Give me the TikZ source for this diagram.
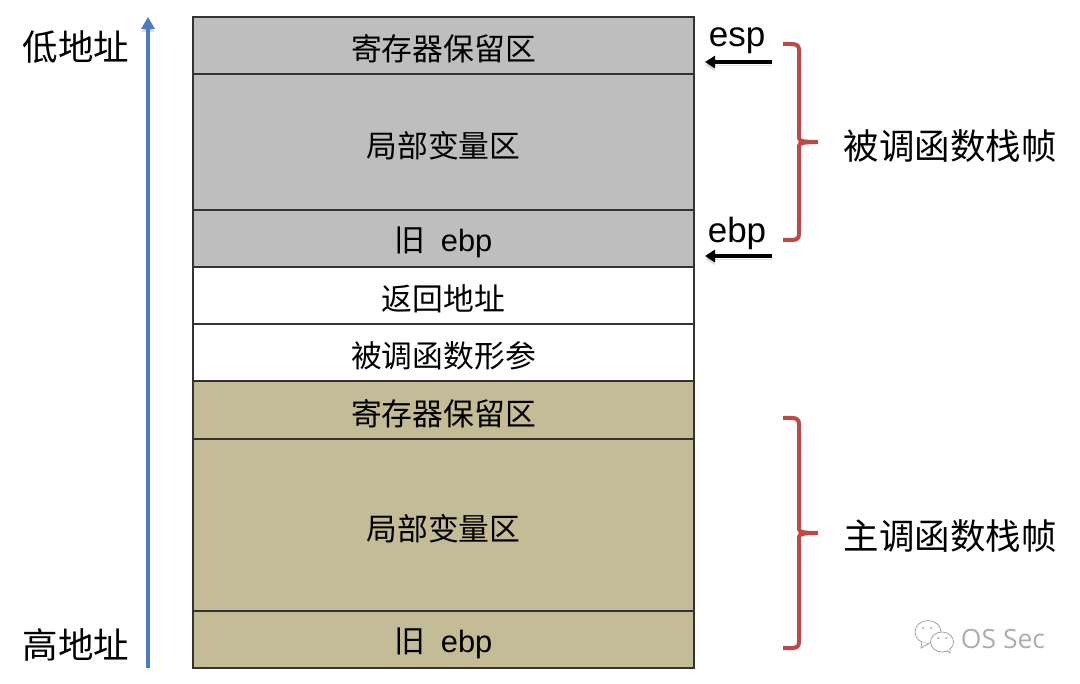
\documentclass[tikz,border=0pt]{standalone}
\usepackage{fontspec}
\setmainfont{Liberation Sans}
\newfontfamily\cjk{Noto Sans CJK SC}
\newfontfamily\marklight{Open Sans}
\usetikzlibrary{calc, arrows.meta}
\definecolor{calleegray}{HTML}{BEBEBE}
\definecolor{callertan}{HTML}{C4BC96}
\definecolor{bracered}{HTML}{B84C4A}
\definecolor{addrblue}{HTML}{4A7EBB}
\tikzset{
    softshadow/.style={preaction={draw=black, opacity=.12, transform canvas={shift={(0pt,-3pt)}}}},
    slot/.style={draw=black!80, line width=1.4pt},
    slotlabel/.style={font=\fontsize{30.8}{36}\selectfont\cjk, inner sep=0pt, yshift=-3.5pt},
    biglabel/.style={font=\fontsize{35.5}{42}\selectfont\cjk, inner sep=0pt},
    reglabel/.style={font=\fontsize{35}{42}\selectfont, inner sep=0pt, anchor=base},
    regarrow/.style={draw=black, line width=3.4pt, -{Triangle[length=10pt, width=12pt]}, softshadow},
    framebrace/.style={draw=bracered, line width=4pt, line cap=butt, softshadow},
    bubble/.style={draw=black!40, fill=white, line width=.7pt},
}
\begin{document}
\begin{tikzpicture}[x=1pt, y=-1pt]
    \useasboundingbox (0,0) rectangle (1080,684);

    \coordinate (L0) at (193, 17);
    \coordinate (R1) at (694, 74);
    \coordinate (R2) at (694, 210);
    \coordinate (R3) at (694, 267);
    \coordinate (L3) at (193, 267);
    \coordinate (R4) at (694, 324);
    \coordinate (L4) at (193, 324);
    \coordinate (R5) at (694, 381);
    \coordinate (L5) at (193, 381);
    \coordinate (R6) at (694, 439);
    \coordinate (R7) at (694, 611);
    \coordinate (R8) at (694, 668);
    \coordinate (L1) at (193, 74);
    \coordinate (L2) at (193, 210);
    \coordinate (L6) at (193, 439);
    \coordinate (L7) at (193, 611);

    \draw[slot, fill=calleegray] (L0) rectangle (R1);
    \draw[slot, fill=calleegray] (L1) rectangle (R2);
    \draw[slot, fill=calleegray] (L2) rectangle (R3);
    \draw[slot, fill=white] (L3) rectangle (R4);
    \draw[slot, fill=white] (L4) rectangle (R5);
    \draw[slot, fill=callertan] (L5) rectangle (R6);
    \draw[slot, fill=callertan] (L6) rectangle (R7);
    \draw[slot, fill=callertan] (L7) rectangle (R8);

    \node[slotlabel] (saved1) at ($(L0)!0.5!(R1)$) {寄存器保留区};
    \node[slotlabel] (locals1) at ($(L1)!0.5!(R2)$) {局部变量区};
    \node[slotlabel] (oldebp1) at ($(L2)!0.5!(R3)$) {旧\hspace{.5em}{\rmfamily ebp}};
    \node[slotlabel] (ret) at ($(L3)!0.5!(R4)$) {返回地址};
    \node[slotlabel] (params) at ($(L4)!0.5!(R5)$) {被调函数形参};
    \node[slotlabel] (saved2) at ($(L5)!0.5!(R6)$) {寄存器保留区};
    \node[slotlabel] (locals2) at ($(L6)!0.5!(R7)$) {局部变量区};
    \node[slotlabel] (oldebp2) at ($(L7)!0.5!(R8)$) {旧\hspace{.5em}{\rmfamily ebp}};

    % address direction
    \coordinate (addrlow) at (148, 17);
    \coordinate (addrhigh) at (148, 668);
    \draw[draw=addrblue, line width=4pt, -{Triangle[length=12pt, width=13pt]}, softshadow] (addrhigh) -- (addrlow);
    \node[biglabel] (low) at (76, 47) {低地址};
    \node[biglabel] (high) at (76, 645) {高地址};

    % registers
    \node[reglabel] (esp) at (737, 47) {esp};
    \node[reglabel] (ebp) at (737, 243) {ebp};
    \coordinate (esptail) at (772, 62);
    \coordinate (esphead) at (705, 62);
    \coordinate (ebptail) at (772, 256);
    \coordinate (ebphead) at (705, 256);
    \draw[regarrow] (esptail) -- (esphead);
    \draw[regarrow] (ebptail) -- (ebphead);

    % frames
    \draw[framebrace] (783, 44) -- (792, 44) .. controls (797, 44) and (799, 46) .. (799, 50)
        -- (799, 138) .. controls (799, 141) and (803, 142) .. (818, 142)
        .. controls (803, 142) and (799, 143) .. (799, 146)
        -- (799, 234) .. controls (799, 238) and (797, 240) .. (792, 240) -- (783, 240);
    \draw[framebrace] (783, 418) -- (792, 418) .. controls (797, 418) and (799, 420) .. (799, 424)
        -- (799, 529) .. controls (799, 532) and (803, 533) .. (818, 533)
        .. controls (803, 533) and (799, 534) .. (799, 537)
        -- (799, 642) .. controls (799, 646) and (797, 648) .. (792, 648) -- (783, 648);
    \node[biglabel] (callee) at (950, 146) {被调函数栈帧};
    \node[biglabel] (caller) at (950, 536) {主调函数栈帧};

    % watermark
    \draw[bubble] (928, 632) ellipse (13 and 11.5);
    \draw[bubble] (922, 642) -- (921, 648) -- (928, 644);
    \draw[bubble] (942, 642) ellipse (11.5 and 10);
    \draw[bubble] (947, 651) -- (950, 653) -- (950, 648);
    \fill[black!40] (923, 628) circle (1) (931, 628) circle (1) (938, 638) circle (1) (946, 638) circle (1);
    \node[font=\fontsize{26.5}{30}\selectfont\marklight, text=black!32, inner sep=0pt] (mark) at (1003, 639) {OS Sec};
\end{tikzpicture}
\end{document}
